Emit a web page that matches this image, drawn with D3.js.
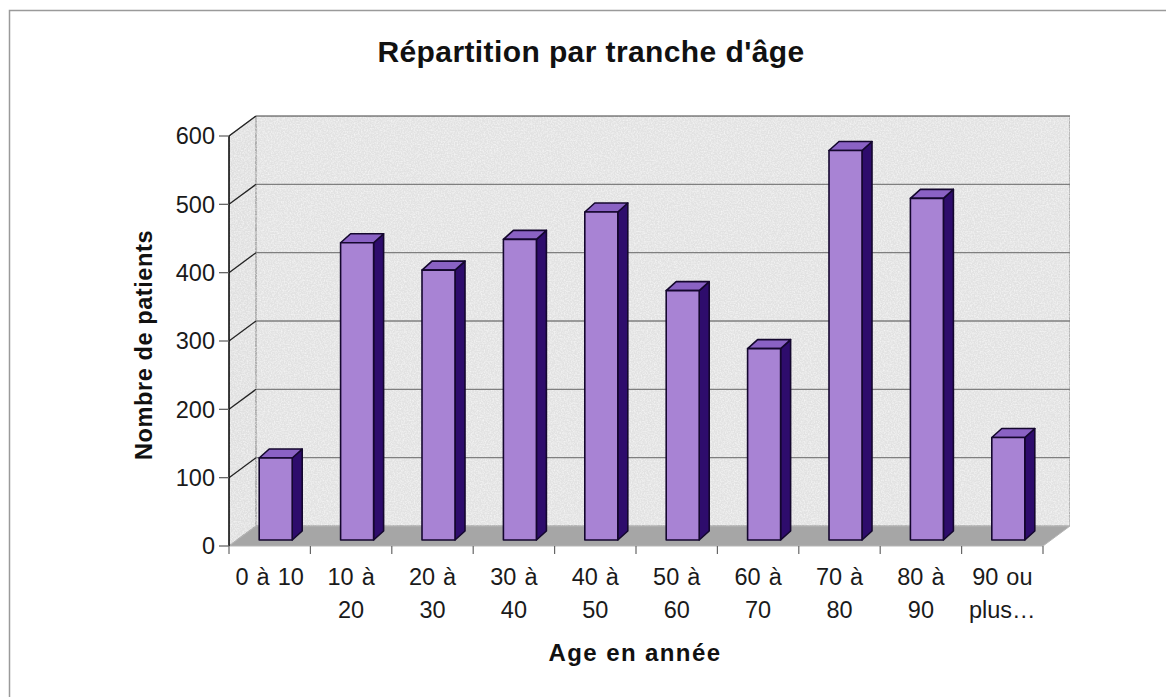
<!DOCTYPE html>
<html>
<head>
<meta charset="utf-8">
<script src="https://cdn.jsdelivr.net/npm/d3@7"></script>
<style>
  html, body { margin: 0; padding: 0; background: #ffffff; }
  svg { display: block; font-family: "Liberation Sans", Arial, Helvetica, sans-serif; }
</style>
</head>
<body>
<script>
// ---- Data ----
const categories = ["0 à 10", "10 à 20", "20 à 30", "30 à 40", "40 à 50", "50 à 60", "60 à 70", "70 à 80", "80 à 90", "90 ou plus…"];
const categoryLines = [["0 à 10"], ["10 à", "20"], ["20 à", "30"], ["30 à", "40"], ["40 à", "50"], ["50 à", "60"], ["60 à", "70"], ["70 à", "80"], ["80 à", "90"], ["90 ou", "plus…"]];
const patients = [120, 435, 395, 440, 480, 365, 280, 570, 500, 150];
const yTickValues = [0, 100, 200, 300, 400, 500, 600];
const titleText = "Répartition par tranche d'âge";
const yTitleText = "Nombre de patients";
const xTitleText = "Age en année";

// ---- Layout ----
const W = 1166, H = 697;
const svg = d3.select("body").append("svg").attr("width", W).attr("height", H);

const defs = svg.append("defs");
const flt = defs.append("filter").attr("id", "grain").attr("x", 0).attr("y", 0).attr("width", 1).attr("height", 1);
flt.append("feTurbulence").attr("type", "fractalNoise").attr("baseFrequency", 0.7).attr("numOctaves", 2).attr("seed", 3).attr("result", "noise");
flt.append("feColorMatrix").attr("in", "noise").attr("type", "matrix")
  .attr("values", "0 0 0 0 1  0 0 0 0 1  0 0 0 0 1  0 0 0 -1.2 0.75").attr("result", "wn");
flt.append("feComposite").attr("in", "wn").attr("in2", "SourceGraphic").attr("operator", "in").attr("result", "wn2");
flt.append("feMerge").call(m => { m.append("feMergeNode").attr("in", "SourceGraphic"); m.append("feMergeNode").attr("in", "wn2"); });

// outer frame
svg.append("rect").attr("x", 9.5).attr("y", 10.5).attr("width", W + 20).attr("height", H + 20)
  .attr("fill", "none").attr("stroke", "#9a9a9a").attr("stroke-width", 1.5);

const x0 = 229, x1 = 1043;
const x = d3.scaleBand().domain(categories).range([x0, x1]);
const y = d3.scaleLinear().domain([0, 600]).range([546, 136]);
const DX = 27, DY = -20;        // wall depth
const BX = 6, BY = -6;          // bar front offset from axis plane
const BDX = 10, BDY = -9;       // bar depth
const BW = 33;                  // bar front width

const poly = pts => "M" + pts.map(p => p.join(",")).join("L") + "Z";
const yMax = y.domain()[1], yMin = y.domain()[0];

// back wall
svg.append("path")
  .attr("d", poly([[x0 + DX, y(yMax) + DY], [x1 + DX, y(yMax) + DY], [x1 + DX, y(yMin) + DY], [x0 + DX, y(yMin) + DY]]))
  .attr("fill", "#e2e2e2").attr("filter", "url(#grain)")
  .attr("stroke", "#8c8c8c").attr("stroke-width", 1.2);
// left wall
svg.append("path")
  .attr("d", poly([[x0, y(yMax)], [x0 + DX, y(yMax) + DY], [x0 + DX, y(yMin) + DY], [x0, y(yMin)]]))
  .attr("fill", "#e0e0e0").attr("filter", "url(#grain)")
  .attr("stroke", "#8c8c8c").attr("stroke-width", 1.2);
// floor
svg.append("path")
  .attr("d", poly([[x0, y(yMin)], [x1, y(yMin)], [x1 + DX, y(yMin) + DY], [x0 + DX, y(yMin) + DY]]))
  .attr("fill", "#a6a6a6").attr("stroke", "#b5b5b5").attr("stroke-width", 1);

// gridlines
const grid = svg.append("g").attr("stroke", "#7f7f7f").attr("stroke-width", 1.3).attr("fill", "none");
yTickValues.filter(t => t > 0).forEach(t => {
  grid.append("line").attr("x1", x0 + DX).attr("x2", x1 + DX).attr("y1", y(t) + DY).attr("y2", y(t) + DY);
  grid.append("line").attr("x1", x0).attr("x2", x0 + DX).attr("y1", y(t)).attr("y2", y(t) + DY).attr("stroke", "#222");
});

// bars
const bars = svg.append("g");
categories.forEach((c, i) => {
  const v = patients[i];
  const xf = x(c) + x.bandwidth() / 2 - BW / 2 + BX;
  const yb = y(0) + BY, yt = y(v) + BY;
  const g = bars.append("g").attr("stroke", "#14072e").attr("stroke-width", 1.6).attr("stroke-linejoin", "round");
  g.append("path").attr("d", poly([[xf + BW, yb], [xf + BW + BDX, yb + BDY], [xf + BW + BDX, yt + BDY], [xf + BW, yt]]))
    .attr("fill", "#2e0c6c");
  g.append("path").attr("d", poly([[xf, yt], [xf + BDX, yt + BDY], [xf + BW + BDX, yt + BDY], [xf + BW, yt]]))
    .attr("fill", "#8a62c4");
  g.append("rect").attr("x", xf).attr("y", yt).attr("width", BW).attr("height", yb - yt)
    .attr("fill", "#a883d4");
});

// y axis
const ya = svg.append("g");
ya.append("line").attr("x1", x0).attr("x2", x0).attr("y1", y(0)).attr("y2", y(600)).attr("stroke", "#111").attr("stroke-width", 1.6);
yTickValues.forEach(t => {
  ya.append("line").attr("x1", x0 - 10).attr("x2", x0).attr("y1", y(t)).attr("y2", y(t)).attr("stroke", "#666").attr("stroke-width", 1.3);
  ya.append("text").attr("x", 215).attr("y", y(t)).attr("dy", "0.36em").attr("text-anchor", "end")
    .attr("font-size", 23.5).attr("fill", "#1a1a1a").text(t);
});

// x axis ticks and labels
const xa = svg.append("g");
categories.map(c => x(c)).concat([x1]).forEach(px => {
  xa.append("line").attr("x1", px).attr("x2", px).attr("y1", y(0)).attr("y2", y(0) + 8).attr("stroke", "#666").attr("stroke-width", 1.2);
});
categories.forEach((c, i) => {
  const cx = x(c) + x.bandwidth() / 2;
  const t = xa.append("text").attr("text-anchor", "middle").attr("font-size", 23.5).attr("fill", "#1a1a1a")
    .attr("word-spacing", 1.5);
  categoryLines[i].forEach((ln, j) => {
    t.append("tspan").attr("x", cx).attr("y", 585 + j * 33).text(ln);
  });
});

// titles
svg.append("text").attr("x", 591).attr("y", 62).attr("text-anchor", "middle")
  .attr("font-size", 30).attr("font-weight", "bold").attr("fill", "#111").attr("letter-spacing", 0.4).text(titleText);
svg.append("text").attr("transform", "translate(152,345) rotate(-90)").attr("text-anchor", "middle")
  .attr("font-size", 23.5).attr("font-weight", "bold").attr("fill", "#111").attr("letter-spacing", 0.6).text(yTitleText);
svg.append("text").attr("x", 635).attr("y", 661).attr("text-anchor", "middle")
  .attr("font-size", 24).attr("font-weight", "bold").attr("fill", "#111").attr("letter-spacing", 1.4).text(xTitleText);
</script>
</body>
</html>
